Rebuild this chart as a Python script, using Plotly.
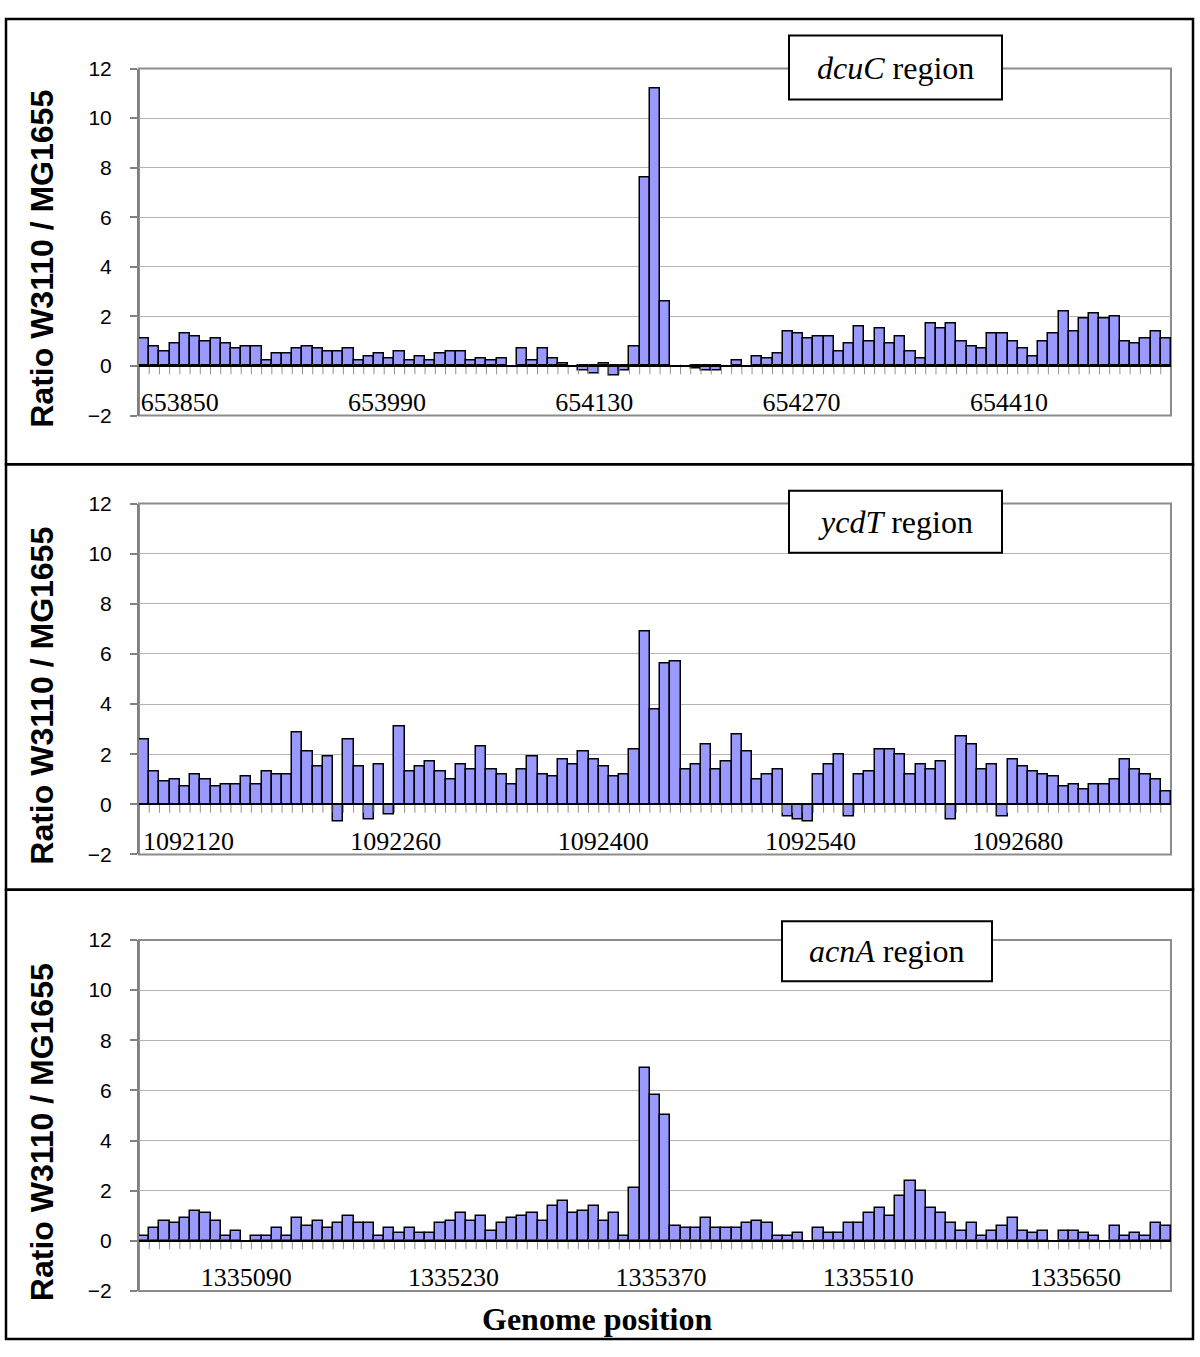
import plotly.graph_objects as go

# ---------------- data ----------------
step_bp = 6.9  # spacing between probes (bp)

dcuC_start = 653826
dcuC_values = [1.1, 0.8, 0.6, 0.9, 1.3, 1.2, 1.0, 1.1, 0.9, 0.7,
               0.8, 0.8, 0.2, 0.5, 0.5, 0.7, 0.8, 0.7, 0.6, 0.6,
               0.7, 0.2, 0.4, 0.5, 0.3, 0.6, 0.2, 0.4, 0.2, 0.5,
               0.6, 0.6, 0.2, 0.3, 0.2, 0.3, None, 0.7, 0.2, 0.7,
               0.3, 0.1, None, -0.2, -0.3, 0.1, -0.4, -0.2, 0.8, 7.6,
               11.2, 2.6, None, None, -0.1, -0.2, -0.2, None, 0.2, None,
               0.4, 0.3, 0.5, 1.4, 1.3, 1.1, 1.2, 1.2, 0.6, 0.9,
               1.6, 1.0, 1.5, 0.9, 1.2, 0.6, 0.3, 1.7, 1.5, 1.7,
               1.0, 0.8, 0.7, 1.3, 1.3, 1.0, 0.7, 0.4, 1.0, 1.3,
               2.2, 1.4, 1.9, 2.1, 1.9, 2.0, 1.0, 0.9, 1.1, 1.4,
               1.1]
dcuC_ticks = [653850, 653990, 654130, 654270, 654410]

ycdT_start = 1092090
ycdT_values = [2.6, 1.3, 0.9, 1.0, 0.7, 1.2, 1.0, 0.7, 0.8, 0.8,
               1.1, 0.8, 1.3, 1.2, 1.2, 2.85, 2.1, 1.5, 1.9, -0.7,
               2.6, 1.5, -0.6, 1.6, -0.4, 3.1, 1.3, 1.5, 1.7, 1.3,
               1.0, 1.6, 1.4, 2.3, 1.4, 1.2, 0.8, 1.4, 1.9, 1.2,
               1.1, 1.8, 1.6, 2.1, 1.8, 1.5, 1.1, 1.2, 2.2, 6.9,
               3.8, 5.6, 5.7, 1.4, 1.6, 2.4, 1.4, 1.7, 2.8, 2.1,
               1.0, 1.2, 1.4, -0.5, -0.6, -0.7, 1.2, 1.6, 2.0, -0.5,
               1.2, 1.3, 2.2, 2.2, 2.0, 1.2, 1.6, 1.4, 1.7, -0.6,
               2.7, 2.4, 1.4, 1.6, -0.5, 1.8, 1.5, 1.3, 1.2, 1.1,
               0.7, 0.8, 0.6, 0.8, 0.8, 1.0, 1.8, 1.4, 1.2, 1.0,
               0.5]
ycdT_ticks = [1092120, 1092260, 1092400, 1092540, 1092680]

acnA_start = 1335021
acnA_values = [0.2, 0.5, 0.8, 0.7, 0.9, 1.2, 1.1, 0.8, 0.2, 0.4,
               None, 0.2, 0.2, 0.5, 0.2, 0.9, 0.6, 0.8, 0.5, 0.7,
               1.0, 0.7, 0.7, 0.2, 0.5, 0.3, 0.5, 0.3, 0.3, 0.7,
               0.8, 1.1, 0.8, 1.0, 0.4, 0.7, 0.9, 1.0, 1.1, 0.8,
               1.4, 1.6, 1.1, 1.2, 1.4, 0.8, 1.1, 0.2, 2.1, 6.9,
               5.8, 5.0, 0.6, 0.5, 0.5, 0.9, 0.5, 0.5, 0.5, 0.7,
               0.8, 0.7, 0.2, 0.2, 0.3, None, 0.5, 0.3, 0.3, 0.7,
               0.7, 1.1, 1.3, 1.0, 1.8, 2.4, 2.0, 1.3, 1.1, 0.7,
               0.4, 0.7, 0.2, 0.4, 0.6, 0.9, 0.4, 0.3, 0.4, None,
               0.4, 0.4, 0.3, 0.2, None, 0.6, 0.2, 0.3, 0.2, 0.7,
               0.6]
acnA_ticks = [1335090, 1335230, 1335370, 1335510, 1335650]

y_ticks = [-2, 0, 2, 4, 6, 8, 10, 12]
region_genes = ["dcuC", "ycdT", "acnA"]
y_title = "Ratio W3110 / MG1655"
x_title = "Genome position"

# ---------------- layout helpers ----------------
W, H = 1200, 1357
def px(x):
    return x / W
def py(y):
    return 1 - y / H

panels = [
    dict(start=dcuC_start, values=dcuC_values, ticks=dcuC_ticks,
         top=57.5, bottom=410.5, frame=(7, 460), box=(789, 1002, 24, 89)),
    dict(start=ycdT_start, values=ycdT_values, ticks=ycdT_ticks,
         top=500, bottom=857, frame=(460, 893), box=(789, 1002, 487, 550)),
    dict(start=acnA_start, values=acnA_values, ticks=acnA_ticks,
         top=944, bottom=1301, frame=(893, 1350), box=(782, 992, 925, 986)),
]

PLOT_L, PLOT_R = 139, 1171
fig = go.Figure()
shapes = []
annotations = []

for k, p in enumerate(panels):
    n = len(p["values"])
    xs = [p["start"] + step_bp * i for i in range(n)]
    bounds = [p["start"] + step_bp * (i - 0.5) for i in range(n + 1)]
    sfx = "" if k == 0 else str(k + 1)
    fig.add_trace(go.Bar(
        x=xs, y=p["values"], width=step_bp,
        marker=dict(color="#9999FF", line=dict(color="black", width=1.5)),
        xaxis="x" + sfx, yaxis="y" + sfx, showlegend=False, hoverinfo="skip",
    ))
    # category tick marks just below the zero line
    fig.add_trace(go.Scatter(
        x=bounds[1:-1], y=[-0.14] * (n - 1), mode="markers",
        marker=dict(symbol="line-ns", size=7,
                    line=dict(color="#909090", width=1)),
        xaxis="x" + sfx, yaxis="y" + sfx, showlegend=False, hoverinfo="skip",
        cliponaxis=False,
    ))
    y0 = py(p["bottom"])
    y1 = py(p["top"])
    zero_pos = y0 + (2 / 14) * (y1 - y0)
    xr = [bounds[0], bounds[-1]]
    xaxis = dict(
        domain=[px(PLOT_L), px(PLOT_R)], range=xr, anchor="free",
        position=zero_pos, showline=True, linecolor="black", linewidth=2,
        showgrid=False, zeroline=False,
        tickmode="array", tickvals=p["ticks"], ticktext=[str(t) for t in p["ticks"]],
        ticks="", ticklabelstandoff=13,
        tickfont=dict(family="Liberation Serif", size=26, color="black"),
        fixedrange=True, layer="above traces",
    )
    yaxis = dict(
        domain=[y0, y1], range=[-2, 12], anchor="x" + sfx,
        tickmode="array", tickvals=y_ticks,
        showgrid=True, gridcolor="#b4b4b4", gridwidth=1,
        zeroline=False, showline=True, linecolor="#808080", linewidth=2,
        ticks="outside", ticklen=7, tickcolor="#808080", tickwidth=1.5,
        ticklabelstandoff=14,
        tickfont=dict(family="Liberation Sans", size=21, color="black"),
        fixedrange=True,
    )
    fig.layout["xaxis" + sfx] = xaxis
    fig.layout["yaxis" + sfx] = yaxis

    # plot area border (gray)
    shapes.append(dict(type="rect", xref="paper", yref="paper",
                       x0=px(PLOT_L), x1=px(PLOT_R), y0=y0, y1=y1,
                       line=dict(color="#8c8c8c", width=2), layer="below"))
    # panel frame
    f0, f1 = p["frame"]
    shapes.append(dict(type="rect", xref="paper", yref="paper",
                       x0=px(6), x1=px(1193), y0=py(f1), y1=py(f0),
                       line=dict(color="black", width=2.5), layer="above"))
    # region label box
    bx0, bx1, by0, by1 = p["box"]
    shapes.append(dict(type="rect", xref="paper", yref="paper",
                       x0=px(bx0), x1=px(bx1), y0=py(by1), y1=py(by0),
                       line=dict(color="black", width=2), fillcolor="white",
                       layer="above"))
    annotations.append(dict(
        xref="paper", yref="paper", x=px((bx0 + bx1) / 2), y=py((by0 + by1) / 2),
        text="<i>%s</i> region" % region_genes[k], showarrow=False,
        xanchor="center", yanchor="middle",
        font=dict(family="Liberation Serif", size=32, color="black")))
    # y-axis title
    annotations.append(dict(
        xref="paper", yref="paper", x=px(42), y=py((p["top"] + p["bottom"]) / 2 + 17),
        text="<b>%s</b>" % y_title, showarrow=False, textangle=-90,
        xanchor="center", yanchor="middle",
        font=dict(family="Liberation Sans", size=32, color="black")))

annotations.append(dict(
    xref="paper", yref="paper", x=px(597), y=py(1330),
    text="<b>%s</b>" % x_title, showarrow=False,
    xanchor="center", yanchor="middle",
    font=dict(family="Liberation Serif", size=32, color="black")))

fig.update_layout(
    width=W, height=H, autosize=False, margin=dict(l=0, r=0, t=0, b=0, pad=0),
    paper_bgcolor="white", plot_bgcolor="white",
    bargap=0, shapes=shapes, annotations=annotations,
)

fig.write_html("out.html",
               config=dict(displayModeBar=False, responsive=False),
               post_script="document.body.style.margin='0px';document.body.style.overflow='hidden';")
